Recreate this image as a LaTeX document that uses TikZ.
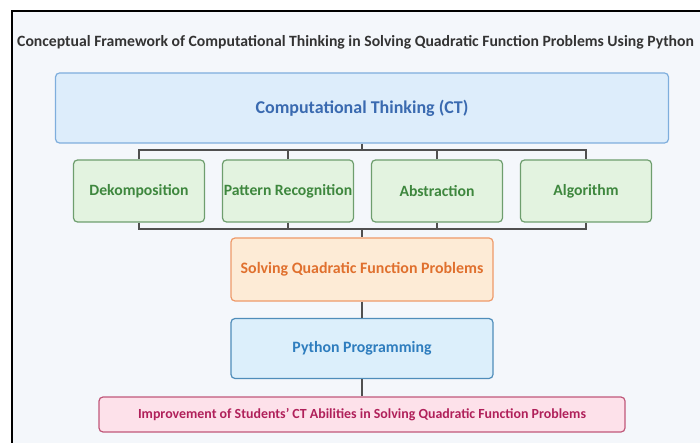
\documentclass[tikz,border=0pt]{standalone}
\usepackage{fontspec}
\setmainfont{Carlito}
\usetikzlibrary{positioning}

\definecolor{pagebg}{HTML}{F4F7FB}
\definecolor{ctfill}{HTML}{DDEDFB}
\definecolor{ctline}{HTML}{7EAEDD}
\definecolor{cttext}{HTML}{3A6AB0}
\definecolor{stepfill}{HTML}{E3F3E0}
\definecolor{stepline}{HTML}{6E9E6E}
\definecolor{steptext}{HTML}{3E873E}
\definecolor{solvefill}{HTML}{FDEBD6}
\definecolor{solveline}{HTML}{EE9A6A}
\definecolor{solvetext}{HTML}{E0702E}
\definecolor{pyfill}{HTML}{DCEFFB}
\definecolor{pyline}{HTML}{4F8DBA}
\definecolor{pytext}{HTML}{2E7DBE}
\definecolor{impfill}{HTML}{FDE1EA}
\definecolor{impline}{HTML}{C0587A}
\definecolor{imptext}{HTML}{B0205A}
\definecolor{linkcol}{HTML}{505050}

\tikzset{
  box/.style={draw, rounded corners=4pt, line width=1.2pt, inner sep=0pt, align=center},
  ctbox/.style={box, fill=ctfill, draw=ctline, text=cttext,
    minimum width=613pt, minimum height=70pt, font=\fontsize{18}{20}\selectfont\bfseries},
  stepbox/.style={box, fill=stepfill, draw=stepline, text=steptext,
    minimum width=131pt, minimum height=62pt, font=\fontsize{15.7}{18}\selectfont\bfseries},
  solvebox/.style={box, fill=solvefill, draw=solveline, text=solvetext,
    minimum width=262pt, minimum height=63pt, font=\fontsize{15.9}{18}\selectfont\bfseries},
  pybox/.style={box, fill=pyfill, draw=pyline, text=pytext,
    minimum width=262pt, minimum height=60pt, font=\fontsize{15.8}{18}\selectfont\bfseries},
  impbox/.style={box, fill=impfill, draw=impline, text=imptext,
    minimum width=526pt, minimum height=35pt, font=\fontsize{13.9}{16}\selectfont\bfseries},
  link/.style={draw=linkcol, line width=1.1pt}
}

\begin{document}
\begin{tikzpicture}[x=1pt,y=-1pt]
  \useasboundingbox (0,0) rectangle (700,443);
  % frame
  \fill[white] (0,0) rectangle (700,443);
  \draw[fill=pagebg, line width=1.5pt] (12,11) rectangle (730,470);

  % title
  \node[anchor=west, inner sep=0pt, text=black!80,
        font=\fontsize{15.7}{19}\selectfont\bfseries] (title) at (17,42)
    {Conceptual Framework of Computational Thinking in Solving Quadratic Function Problems Using Python};

  % boxes
  \node[ctbox] (ct) at (362,108) {Computational Thinking (CT)};

  \node[stepbox] (dek) at (139,191) {Dekomposition};
  \node[stepbox] (pat) at (288,191) {Pattern Recognition};
  \node[stepbox] (abs) at (437,191) {Abstraction};
  \node[stepbox] (alg) at (586,191) {Algorithm};

  \node[solvebox] (solve) at (362,269.5) {Solving Quadratic Function Problems};
  \node[pybox] (py) at (362,348.5) {Python Programming};
  \node[impbox] (imp) at (362,414.5)
    {Improvement of Students' CT Abilities in Solving Quadratic Function Problems};

  % connectors
  \coordinate (topbus) at (362,150);
  \coordinate (botbus) at (362,229);
  \draw[link] (ct.south) -- (topbus);
  \draw[link] (dek.north) |- (alg.north |- topbus) -- (alg.north);
  \foreach \n in {pat,abs}
    \draw[link] (\n.north) -- (\n.north |- topbus);
  \draw[link] (dek.south) |- (alg.south |- botbus) -- (alg.south);
  \foreach \n in {pat,abs}
    \draw[link] (\n.south) -- (\n.south |- botbus);
  \draw[link] (botbus) -- (solve.north);
  \draw[link] (solve) -- (py);
  \draw[link] (py) -- (imp);
\end{tikzpicture}
\end{document}
